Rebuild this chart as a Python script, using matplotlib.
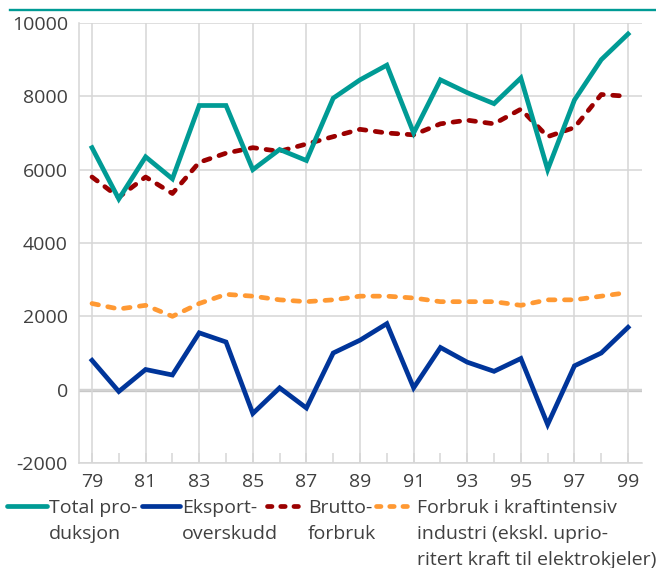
import matplotlib
matplotlib.use("Agg")
import matplotlib.pyplot as plt
from matplotlib.lines import Line2D

# ---------------- data ----------------
years = list(range(1979, 2000))
total_produksjon = [6600, 5200, 6350, 5750, 7750, 7750, 6000, 6550, 6250, 7950,
                    8450, 8850, 7000, 8450, 8100, 7800, 8500, 6000, 7900, 9000, 9700]
eksportoverskudd = [800, -50, 550, 400, 1550, 1300, -650, 50, -500, 1000,
                    1350, 1800, 50, 1150, 750, 500, 850, -950, 650, 1000, 1700]
bruttoforbruk = [5800, 5250, 5800, 5350, 6200, 6450, 6600, 6500, 6700, 6900,
                 7100, 7000, 6950, 7250, 7350, 7250, 7650, 6900, 7150, 8050, 8000]
kraftintensiv = [2350, 2200, 2300, 2000, 2350, 2600, 2550, 2450, 2400, 2450,
                 2550, 2550, 2500, 2400, 2400, 2400, 2300, 2450, 2450, 2550, 2650]

major_years = list(range(1979, 2000, 2))
xtick_labels = ['79', '81', '83', '85', '87', '89', '91', '93', '95', '97', '99']
yticks = [-2000, 0, 2000, 4000, 6000, 8000, 10000]

labels = ["Total pro-\nduksjon", "Eksport-\noverskudd", "Brutto-\nforbruk",
          "Forbruk i kraftintensiv\nindustri (ekskl. uprio-\nritert kraft til elektrokjeler)"]

# ---------------- style ----------------
TEAL = '#009B95'
BLUE = '#00359A'
RED = '#9B0000'
ORANGE = '#FF9933'
GRID = '#D6D6D6'
TXT = '#404040'

plt.rcParams['font.family'] = ['Open Sans', 'DejaVu Sans']

W, H = 656, 568
fig = plt.figure(figsize=(W / 100, H / 100), dpi=100)
ax = fig.add_axes([79 / W, 1 - 463 / H, (642 - 79) / W, (463 - 23) / H])

lw = 3.4
ax.plot(years, total_produksjon, color=TEAL, lw=lw, solid_joinstyle='miter', zorder=5)
ax.plot(years, eksportoverskudd, color=BLUE, lw=lw, solid_joinstyle='miter', zorder=5)
ax.plot(years, bruttoforbruk, color=RED, lw=lw, dashes=(1.4, 2.0),
        dash_capstyle='round', zorder=4)
ax.plot(years, kraftintensiv, color=ORANGE, lw=lw, dashes=(1.4, 2.0),
        dash_capstyle='round', zorder=4)

ax.set_xlim(78.515 + 1900, 99.52 + 1900)
ax.set_ylim(-2000, 10000)

ax.set_xticks(major_years)
ax.set_xticklabels(xtick_labels)
ax.set_xticks(years, minor=True)
ax.set_yticks(yticks)
ax.set_yticklabels([str(v) for v in yticks])

ax.grid(True, which='major', axis='both', color=GRID, lw=1.1, zorder=0)
ax.axhline(0, color='#C8C8C8', lw=2.4, zorder=1)

for s in ['top', 'right']:
    ax.spines[s].set_visible(False)
for s in ['left', 'bottom']:
    ax.spines[s].set_color(GRID)
    ax.spines[s].set_linewidth(1.1)

ax.tick_params(axis='x', which='both', direction='in', length=7.5, width=1.1,
               color=GRID, labelsize=14, labelcolor=TXT, pad=7)
ax.tick_params(axis='y', which='both', length=0, labelsize=14, labelcolor=TXT, pad=8)

# top decorative rule
fig.add_artist(Line2D([10 / W, 1.0], [1 - 9.5 / H, 1 - 9.5 / H],
                      transform=fig.transFigure, color=TEAL, lw=1.7))

# ---------------- legend (manual, below axes) ----------------
handles_px = [(7, 47), (142, 180), (267, 306), (376, 414)]
text_x = [49, 182, 308, 417]
colors = [TEAL, BLUE, RED, ORANGE]
dashed = [False, False, True, True]
hy = 1 - 506 / H
for (x0, x1), tx, c, d, lab in zip(handles_px, text_x, colors, dashed, labels):
    kw = dict(transform=fig.transFigure, color=c, lw=lw)
    if d:
        kw.update(dashes=(0.95, 1.85), dash_capstyle='round')
    else:
        kw.update(solid_capstyle='round')
    fig.add_artist(Line2D([x0 / W, x1 / W], [hy, hy], **kw))
    fig.text(tx / W, 1 - 499 / H, lab, fontsize=14, color=TXT, va='top',
             ha='left', linespacing=1.58)

fig.savefig('out.png', dpi=100)
